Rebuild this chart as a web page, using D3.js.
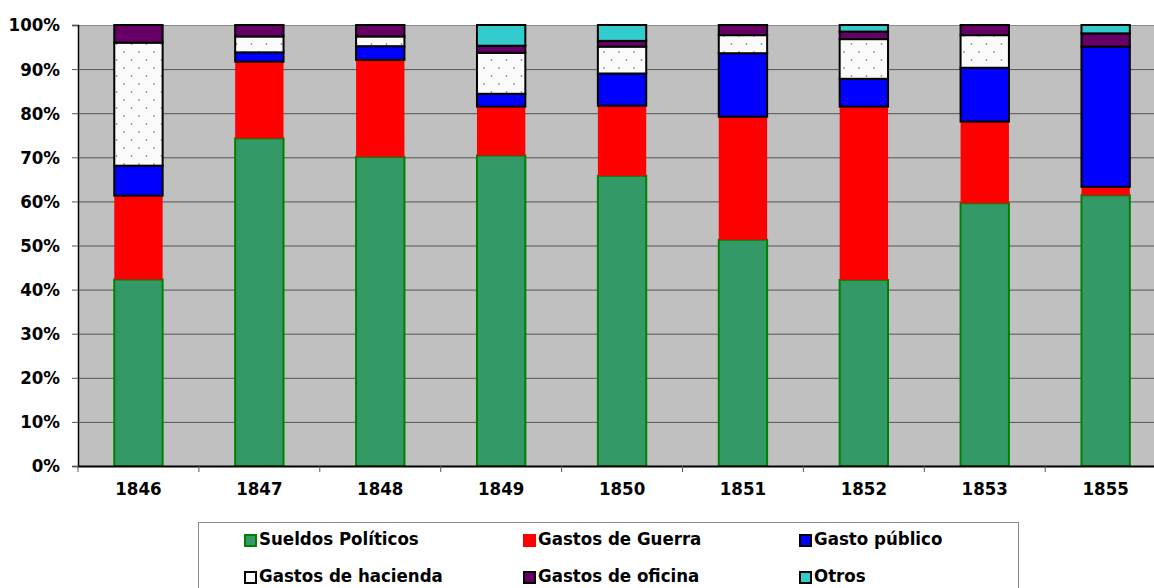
<!DOCTYPE html>
<html>
<head>
<meta charset="utf-8">
<script src="https://cdnjs.cloudflare.com/ajax/libs/d3/7.8.5/d3.min.js"></script>
<style>
  body { margin: 0; background: #fff; }
  svg text { font-family: "Liberation Sans Narrow", "DejaVu Sans Condensed", Arial, sans-serif; font-weight: bold; fill: #000; }
</style>
</head>
<body>
<svg id="bar-chart"></svg>
<script>
var years = ["1846", "1847", "1848", "1849", "1850", "1851", "1852", "1853", "1855"];
var sueldos = [42.3, 74.3, 70.1, 70.4, 65.8, 51.3, 42.2, 59.6, 61.4];
var guerra = [19.0, 17.4, 22.0, 11.1, 15.9, 27.9, 39.3, 18.5, 1.9];
var publico = [6.8, 2.1, 3.1, 2.9, 7.3, 14.4, 6.3, 12.2, 31.8];
var hacienda = [27.9, 3.6, 2.2, 9.3, 6.1, 4.1, 9.0, 7.4, 0];
var oficina = [4.0, 2.6, 2.6, 1.6, 1.3, 2.3, 1.7, 2.3, 3.0];
var otros = [0, 0, 0, 4.7, 3.6, 0, 1.5, 0, 1.9];
var yTicks = [0, 10, 20, 30, 40, 50, 60, 70, 80, 90, 100];

var seriesNames = ["Sueldos Políticos", "Gastos de Guerra", "Gasto público",
                   "Gastos de hacienda", "Gastos de oficina", "Otros"];
var seriesValues = [sueldos, guerra, publico, hacienda, oficina, otros];
var fills = ["#339966", "#ff0000", "#0000ff", "url(#dots)", "#660066", "#33cccc"];
var strokes = ["#008000", "#ff0000", "#000", "#000", "#000", "#000"];

function drawChart() {
  var width = 1154, height = 588;
  var padding = { top: 25, bottom: 122, left: 78 };
  var fontSize = "18.5px";
  var svg = d3.select("#bar-chart")
              .attr("width", width)
              .attr("height", height);

  // dotted fill for "hacienda"
  var pat = svg.append("defs").append("pattern")
               .attr("id", "dots")
               .attr("patternUnits", "userSpaceOnUse")
               .attr("width", 15)
               .attr("height", 16);
  pat.append("rect").attr("width", 15).attr("height", 16).attr("fill", "#fafafa");
  pat.append("circle").attr("cx", 4).attr("cy", 4).attr("r", 0.9).attr("fill", "#999");
  pat.append("circle").attr("cx", 11.5).attr("cy", 12).attr("r", 0.9).attr("fill", "#999");

  var bandW = 120.9;
  var xScale = d3.scaleBand()
                 .domain(years)
                 .range([padding.left, padding.left + bandW * years.length])
                 .paddingInner(0.6)
                 .paddingOuter(0.3);

  var yScale = d3.scaleLinear()
                 .domain([0, 100])
                 .range([height - padding.bottom, padding.top]);

  var plotRight = padding.left + bandW * years.length;

  svg.append("rect")
      .attr("x", padding.left)
      .attr("y", padding.top)
      .attr("width", plotRight - padding.left)
      .attr("height", yScale(0) - padding.top)
      .attr("fill", "#c0c0c0");

  // gridlines
  svg.append("g")
      .selectAll("line")
      .data(yTicks.filter(d => d > 0))
      .enter()
      .append("line")
        .attr("x1", padding.left)
        .attr("x2", plotRight)
        .attr("y1", d => yScale(d) + 0.5)
        .attr("y2", d => yScale(d) + 0.5)
        .attr("stroke", d => d === 100 ? "#8a8a8a" : "#555")
        .attr("stroke-width", 1);

  // stacked bars
  var table = years.map(function(y, i) {
    var row = { year: y };
    seriesNames.forEach(function(s, j) { row[s] = seriesValues[j][i]; });
    return row;
  });
  var stacked = d3.stack().keys(seriesNames)(table);

  var layer = svg.append("g")
                 .selectAll("g")
                 .data(stacked)
                 .enter()
                 .append("g")
                   .attr("fill", (d, i) => fills[i])
                   .attr("stroke", (d, i) => strokes[i])
                   .attr("stroke-width", (d, i) => i === 1 ? 0 : 2);

  layer.selectAll("rect")
      .data(d => d.filter(p => p[1] - p[0] > 0))
      .enter()
      .append("rect")
        .attr("x", d => xScale(d.data.year))
        .attr("width", xScale.bandwidth())
        .attr("y", d => yScale(d[1]))
        .attr("height", d => yScale(d[0]) - yScale(d[1]));

  // axes
  var yAxis = d3.axisLeft(yScale)
                .tickValues(yTicks)
                .tickSize(6)
                .tickPadding(12)
                .tickFormat(d => d + "%");

  svg.append("g")
      .attr("transform", "translate(" + padding.left + ",0)")
      .call(yAxis)
      .call(g => g.select(".domain").attr("stroke", "#000").attr("stroke-width", 1.5))
      .call(g => g.selectAll(".tick line").attr("stroke", "#555"))
      .call(g => g.selectAll("text").style("font-size", fontSize));

  var xAxis = d3.axisBottom(xScale).tickSize(0).tickPadding(16);

  svg.append("g")
      .attr("transform", "translate(0," + yScale(0) + ")")
      .call(xAxis)
      .call(g => g.select(".domain").remove())
      .call(g => g.selectAll("text").style("font-size", fontSize));

  svg.append("line")
      .attr("x1", padding.left)
      .attr("x2", plotRight)
      .attr("y1", yScale(0) + 0.5)
      .attr("y2", yScale(0) + 0.5)
      .attr("stroke", "#000")
      .attr("stroke-width", 2);

  svg.append("g")
      .selectAll("line")
      .data(d3.range(years.length + 1))
      .enter()
      .append("line")
        .attr("x1", i => padding.left + i * bandW)
        .attr("x2", i => padding.left + i * bandW)
        .attr("y1", yScale(0))
        .attr("y2", yScale(0) + 6)
        .attr("stroke", "#555");

  // legend
  var legend = svg.append("g");
  legend.append("rect")
      .attr("x", 198.5)
      .attr("y", 522.5)
      .attr("width", 820)
      .attr("height", 90)
      .attr("fill", "#fff")
      .attr("stroke", "#888");

  var colX = [245, 524, 800];
  var rowY = [539, 576];
  var item = legend.selectAll(".item")
                   .data(seriesNames)
                   .enter()
                   .append("g")
                     .attr("transform", (d, i) => "translate(" + colX[i % 3] + "," + rowY[Math.floor(i / 3)] + ")");

  item.append("rect")
      .attr("x", 0)
      .attr("y", -4)
      .attr("width", 11)
      .attr("height", 11)
      .attr("fill", (d, i) => i === 3 ? "#fff" : fills[i])
      .attr("stroke", (d, i) => strokes[i])
      .attr("stroke-width", 2);

  item.append("text")
      .attr("x", 14)
      .attr("y", 0)
      .attr("dy", "0.35em")
      .style("font-size", fontSize)
      .text(d => d);
}

drawChart();
</script>
</body>
</html>
